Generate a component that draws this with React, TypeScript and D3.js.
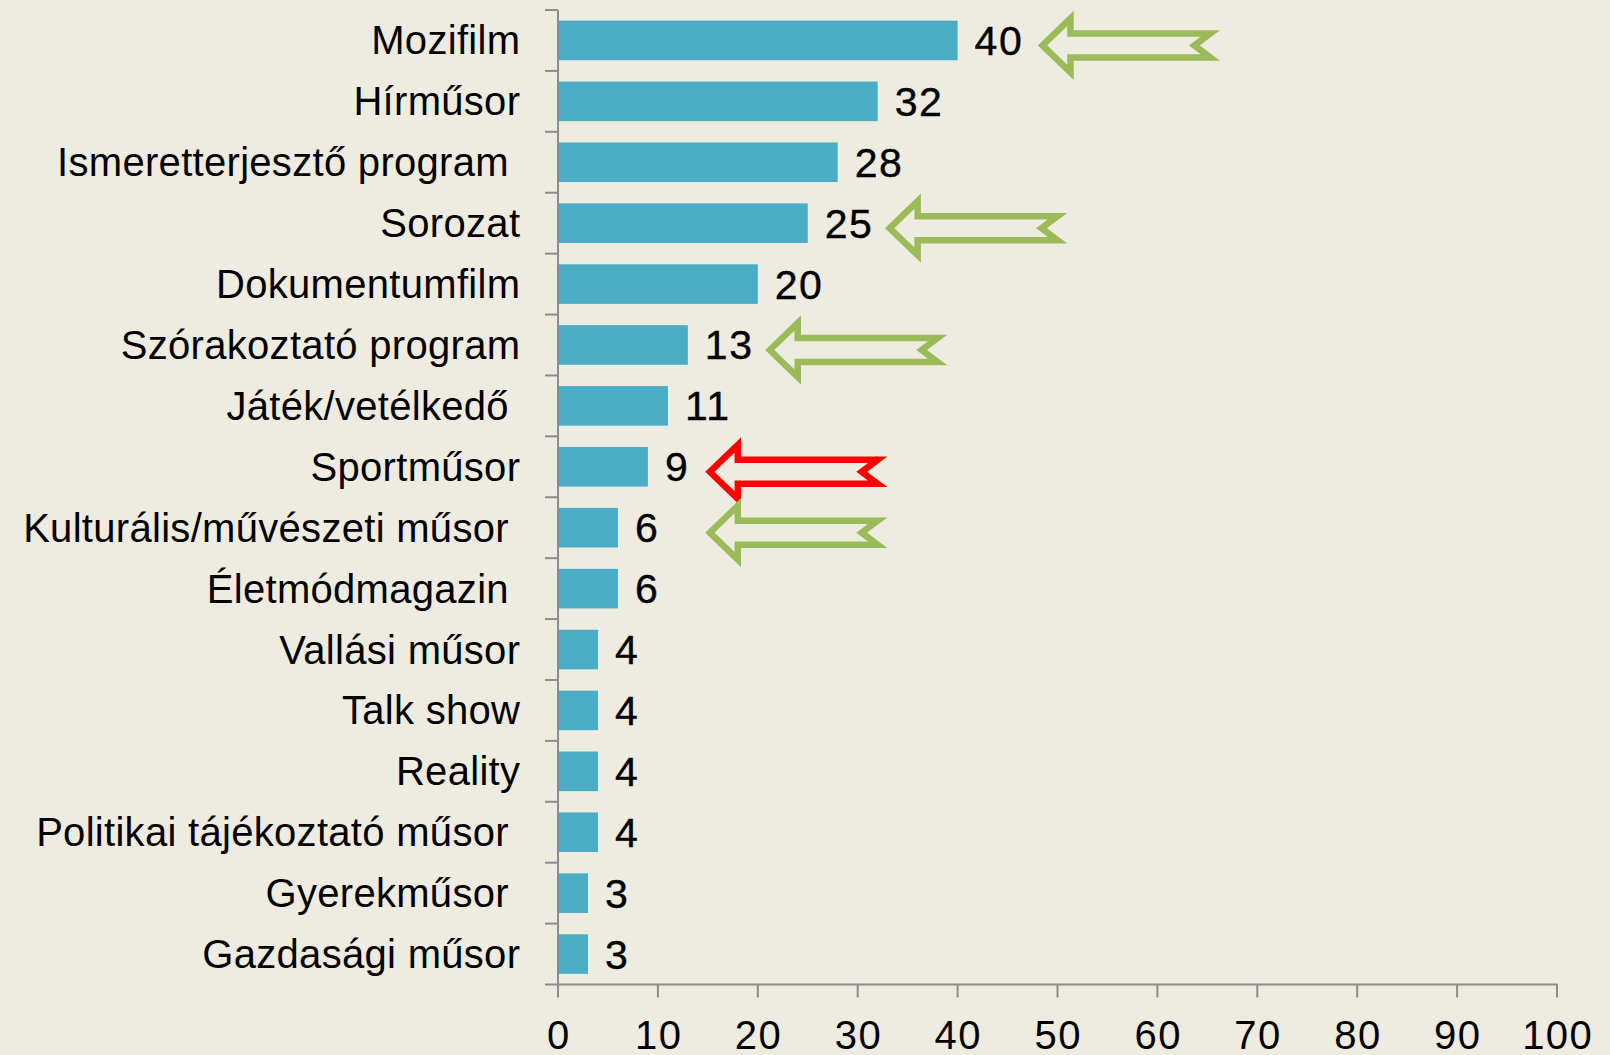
import React from "react";
import * as d3 from "d3";

const categories = [
  "Mozifilm",
  "Hírműsor",
  "Ismeretterjesztő program ",
  "Sorozat",
  "Dokumentumfilm",
  "Szórakoztató program",
  "Játék/vetélkedő ",
  "Sportműsor",
  "Kulturális/művészeti műsor ",
  "Életmódmagazin ",
  "Vallási műsor",
  "Talk show",
  "Reality",
  "Politikai tájékoztató műsor ",
  "Gyerekműsor ",
  "Gazdasági műsor",
];
const values = [40, 32, 28, 25, 20, 13, 11, 9, 6, 6, 4, 4, 4, 4, 3, 3];
const xTicks = [0, 10, 20, 30, 40, 50, 60, 70, 80, 90, 100];

// annotation arrows: category, tip position (axis units), colour
const arrowCats = ["Mozifilm", "Sorozat", "Szórakoztató program", "Sportműsor", "Kulturális/művészeti műsor "];
const arrowTips = [48, 32.7, 20.7, 14.7, 14.7];
const arrowColors = ["#9BBB59", "#9BBB59", "#9BBB59", "#FF0000", "#9BBB59"];
const arrowLength = 18;

const W = 1610;
const H = 1055;
const left = 558;
const right = 1557;
const top = 10;
const bottom = 984.5;
const FONT = "'Liberation Sans', Arial, sans-serif";
const AXIS = "#8C8C8C";

export default function App() {
  const x = d3.scaleLinear().domain([0, 100]).range([left, right]);
  const y = d3
    .scaleBand<string>()
    .domain(categories)
    .range([top, bottom])
    .paddingInner(0.35)
    .paddingOuter(0.175);
  const step = y.step();
  const bandStart = (c: string) => (y(c) as number) - step * 0.175;
  const center = (c: string) => (y(c) as number) + y.bandwidth() / 2;

  const arrowPath = (x0: number, cy: number, x1: number) => {
    const L = x1 - x0;
    const s = L / 180;
    const p = [
      [x0 + 5, cy],
      [x0 + 33 * s, cy - 27],
      [x0 + 33 * s, cy - 12],
      [x0 + 173 * s, cy - 12],
      [x0 + 157 * s, cy],
      [x0 + 173 * s, cy + 12],
      [x0 + 33 * s, cy + 12],
      [x0 + 33 * s, cy + 27],
    ];
    return d3.line()(p as [number, number][]) + "Z";
  };

  return (
    <svg
      width={W}
      height={H}
      style={{ position: "absolute", left: 0, top: 0, background: "#EEECE1" }}
    >
      <rect x={0} y={0} width={W} height={H} fill="#EEECE1" />
      {/* bars */}
      {categories.map((c, i) => (
        <rect
          key={c}
          x={x(0) + 1}
          y={y(c)}
          width={x(values[i]) - x(0) - 1}
          height={y.bandwidth()}
          fill="#4BACC6"
        />
      ))}
      {/* y axis */}
      <line x1={left} x2={left} y1={top} y2={bottom} stroke={AXIS} strokeWidth={2} />
      {categories.map((c) => (
        <line key={"t" + c} x1={left - 13} x2={left} y1={bandStart(c)} y2={bandStart(c)} stroke={AXIS} strokeWidth={2} />
      ))}
      {/* x axis */}
      <line x1={left - 13} x2={right + 1} y1={bottom} y2={bottom} stroke={AXIS} strokeWidth={2} />
      {xTicks.map((t) => (
        <g key={"x" + t}>
          <line x1={x(t)} x2={x(t)} y1={bottom} y2={bottom + 13} stroke={AXIS} strokeWidth={2} />
          <text
            x={x(t) + 0.75}
            y={1049}
            textAnchor="middle"
            fontFamily={FONT}
            fontSize={40}
            letterSpacing={1.5}
            fill="#000"
          >
            {t}
          </text>
        </g>
      ))}
      {/* category labels */}
      {categories.map((c) => (
        <text
          key={"l" + c}
          x={520.3}
          y={center(c) + 14}
          textAnchor="end"
          fontFamily={FONT}
          fontSize={40}
          letterSpacing={0.3}
          fill="#000"
          style={{ whiteSpace: "pre" }}
          xmlSpace="preserve"
        >
          {c}
        </text>
      ))}
      {/* value labels */}
      {categories.map((c, i) => (
        <text
          key={"v" + c}
          x={x(values[i]) + 17}
          y={center(c) + 14.5}
          fontFamily={FONT}
          fontSize={41}
          letterSpacing={1.5}
          fill="#000"
          stroke="#000"
          strokeWidth={0.4}
        >
          {values[i]}
        </text>
      ))}
      {/* arrows */}
      {arrowCats.map((c, i) => (
        <path
          key={"a" + i}
          d={arrowPath(x(arrowTips[i]), center(c) + 5, x(arrowTips[i] + arrowLength))}
          fill="none"
          stroke={arrowColors[i]}
          strokeWidth={6.5}
          strokeLinejoin="miter"
        />
      ))}
    </svg>
  );
}
